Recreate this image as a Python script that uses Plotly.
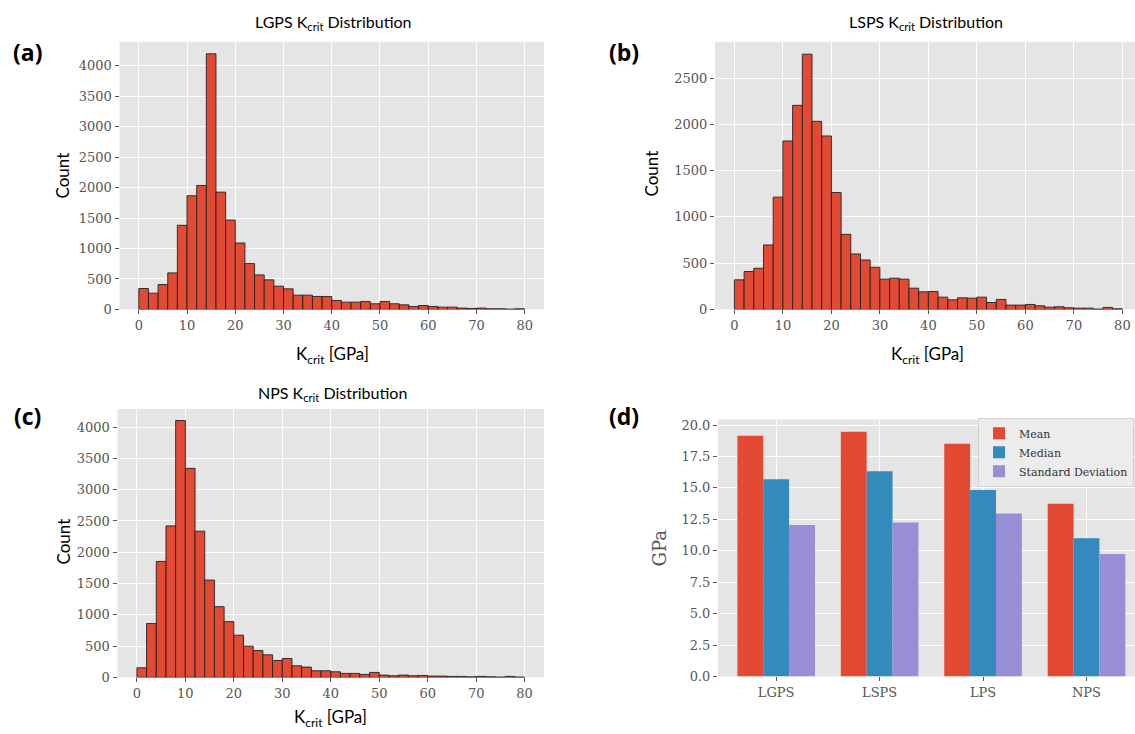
import plotly.graph_objects as go

# ---------------- data ----------------
bin_edges = [0, 2, 4, 6, 8, 10, 12, 14, 16, 18, 20, 22, 24, 26, 28, 30, 32, 34, 36, 38,
             40, 42, 44, 46, 48, 50, 52, 54, 56, 58, 60, 62, 64, 66, 68, 70, 72, 74, 76, 78]

lgps_counts = [344, 267, 409, 600, 1381, 1866, 2035, 4196, 1926, 1468, 1091, 753, 567, 486, 382, 338,
               235, 235, 213, 213, 147, 120, 120, 131, 93, 131, 93, 76, 49, 65, 49, 38, 38, 22, 16, 22,
               11, 11, 5, 11]

lsps_counts = [320, 410, 445, 697, 1214, 1821, 2206, 2759, 2033, 1875, 1264, 812, 600, 535, 456, 327,
               338, 327, 230, 190, 194, 133, 104, 126, 122, 133, 75, 108, 47, 47, 54, 40, 25, 29, 18, 14,
               14, 4, 22, 7]

nps_counts = [154, 861, 1854, 2422, 4106, 3341, 2337, 1556, 1131, 892, 675, 499, 430, 361, 271, 303,
              186, 165, 106, 106, 90, 64, 64, 48, 80, 37, 27, 37, 27, 32, 21, 21, 16, 16, 10, 16,
              10, 5, 16, 5]

materials = ["LGPS", "LSPS", "LPS", "NPS"]
mean_vals = [19.15, 19.47, 18.52, 13.73]
median_vals = [15.69, 16.32, 14.84, 11.00]
std_vals = [12.04, 12.25, 12.96, 9.74]

hist_ticks = [0, 10, 20, 30, 40, 50, 60, 70, 80]
gpa_ticks = [0, 2.5, 5, 7.5, 10, 12.5, 15, 17.5, 20]

# ---------------- style ----------------
W, H = 1135, 734
YS = 1.011  # vertical layout factor (compensates the photographed page height)
RED = "#E24A33"
BLUE = "#348ABD"
PURPLE = "#988ED5"
BG = "#E5E5E5"
TICKC = "#555555"
SERIF = "DejaVu Serif"
SANS = "Lato"


def px_x(a, b):
    return [max(0, a / W), min(1, b / W)]


def py(v):
    return 1 - v * YS / H


def px_y(top, bottom):
    return [py(bottom), py(top)]


fig = go.Figure()

hist_sets = [
    (lgps_counts, "x", "y"),
    (lsps_counts, "x2", "y2"),
    (nps_counts, "x3", "y3"),
]
for counts, xa, ya in hist_sets:
    fig.add_trace(go.Bar(
        x=bin_edges, y=counts, width=2, offset=0,
        marker=dict(color=RED, line=dict(color="#222222", width=0.9)),
        xaxis=xa, yaxis=ya, showlegend=False, hoverinfo="x+y",
    ))

for name, vals, col in [("Mean", mean_vals, RED), ("Median", median_vals, BLUE),
                        ("Standard Deviation", std_vals, PURPLE)]:
    fig.add_trace(go.Bar(
        x=materials, y=vals, name=name, marker=dict(color=col, line=dict(width=0)),
        xaxis="x4", yaxis="y4",
    ))

axis_common = dict(
    showgrid=True, gridcolor="white", gridwidth=1.3, zeroline=False,
    ticks="outside", ticklen=4, tickwidth=1, tickcolor=TICKC,
    tickfont=dict(family=SERIF, size=13, color=TICKC),
    showline=False, layer="below traces",
)

fig.update_layout(
    width=W, height=H,
    margin=dict(l=0, r=0, t=0, b=0),
    paper_bgcolor="white", plot_bgcolor=BG,
    barmode="group", bargap=0.25, bargroupgap=0,
    xaxis=dict(domain=px_x(119.5, 544), range=[-4, 84], tickvals=hist_ticks, anchor="y", **axis_common),
    yaxis=dict(domain=px_y(40, 308.3), range=[0, 4392], tickvals=[0, 500, 1000, 1500, 2000, 2500, 3000, 3500, 4000],
               anchor="x", **axis_common),
    xaxis2=dict(domain=px_x(715, 1135), range=[-4, 82.6], tickvals=hist_ticks, anchor="y2", **axis_common),
    yaxis2=dict(domain=px_y(40, 308.3), range=[0, 2892], tickvals=[0, 500, 1000, 1500, 2000, 2500],
                anchor="x2", **axis_common),
    xaxis3=dict(domain=px_x(117.5, 544), range=[-4, 84], tickvals=hist_ticks, anchor="y3", **axis_common),
    yaxis3=dict(domain=px_y(408, 677.3), range=[0, 4292], tickvals=[0, 500, 1000, 1500, 2000, 2500, 3000, 3500, 4000],
                anchor="x3", **axis_common),
    xaxis4=dict(domain=px_x(718, 1135), range=[-0.5625, 3.469], type="category", anchor="y4", **axis_common),
    yaxis4=dict(domain=px_y(418.7, 676.3), range=[0, 20.44], tickvals=gpa_ticks,
                ticktext=["0.0", "2.5", "5.0", "7.5", "10.0", "12.5", "15.0", "17.5", "20.0"],
                anchor="x4", **axis_common),
    legend=dict(
        x=978 / W, y=py(417), xanchor="left", yanchor="top",
        bgcolor="#ECECEC", bordercolor="#D0D0D0", borderwidth=1,
        font=dict(family=SERIF, size=11, color="#333333"),
        tracegroupgap=0, itemwidth=30,
    ),
)

annotations = []


def add_text(text, x, y, size, family=SANS, color="black", angle=0, bold=False):
    if bold:
        text = "<b>" + text + "</b>"
    annotations.append(dict(
        text=text, x=x / W, y=py(y), xref="paper", yref="paper",
        showarrow=False, font=dict(family=family, size=size, color=color),
        textangle=angle, xanchor="center", yanchor="middle",
    ))


# titles
add_text("LGPS K<sub>crit</sub> Distribution", 333, 21, 16)
add_text("LSPS K<sub>crit</sub> Distribution", 926, 21, 16)
add_text("NPS K<sub>crit</sub> Distribution", 332, 393, 16)

# axis titles
add_text("Count", 63, 174, 17, angle=-90)
add_text("Count", 652, 172, 17, angle=-90)
add_text("Count", 63, 541, 17, angle=-90)
add_text("K<sub>crit</sub> [GPa]", 332, 354, 17)
add_text("K<sub>crit</sub> [GPa]", 927, 354, 17)
add_text("K<sub>crit</sub> [GPa]", 330, 718, 17)
add_text("GPa", 659, 548, 18, family=SERIF, color=TICKC, angle=-90)

# panel labels
add_text("(a)", 27, 50, 23, family="Open Sans", bold=True)
add_text("(b)", 624, 50, 23, family="Open Sans", bold=True)
add_text("(c)", 27, 415, 23, family="Open Sans", bold=True)
add_text("(d)", 624, 415, 23, family="Open Sans", bold=True)

fig.update_layout(annotations=annotations)

# remove the default 8px page margin so the figure sits exactly in the 1135x734 window
fig.write_html(
    "out.html",
    config={"displayModeBar": False},
    post_script="document.body.style.margin='0px';document.body.style.overflow='hidden';"
                "document.documentElement.style.overflow='hidden';",
)
